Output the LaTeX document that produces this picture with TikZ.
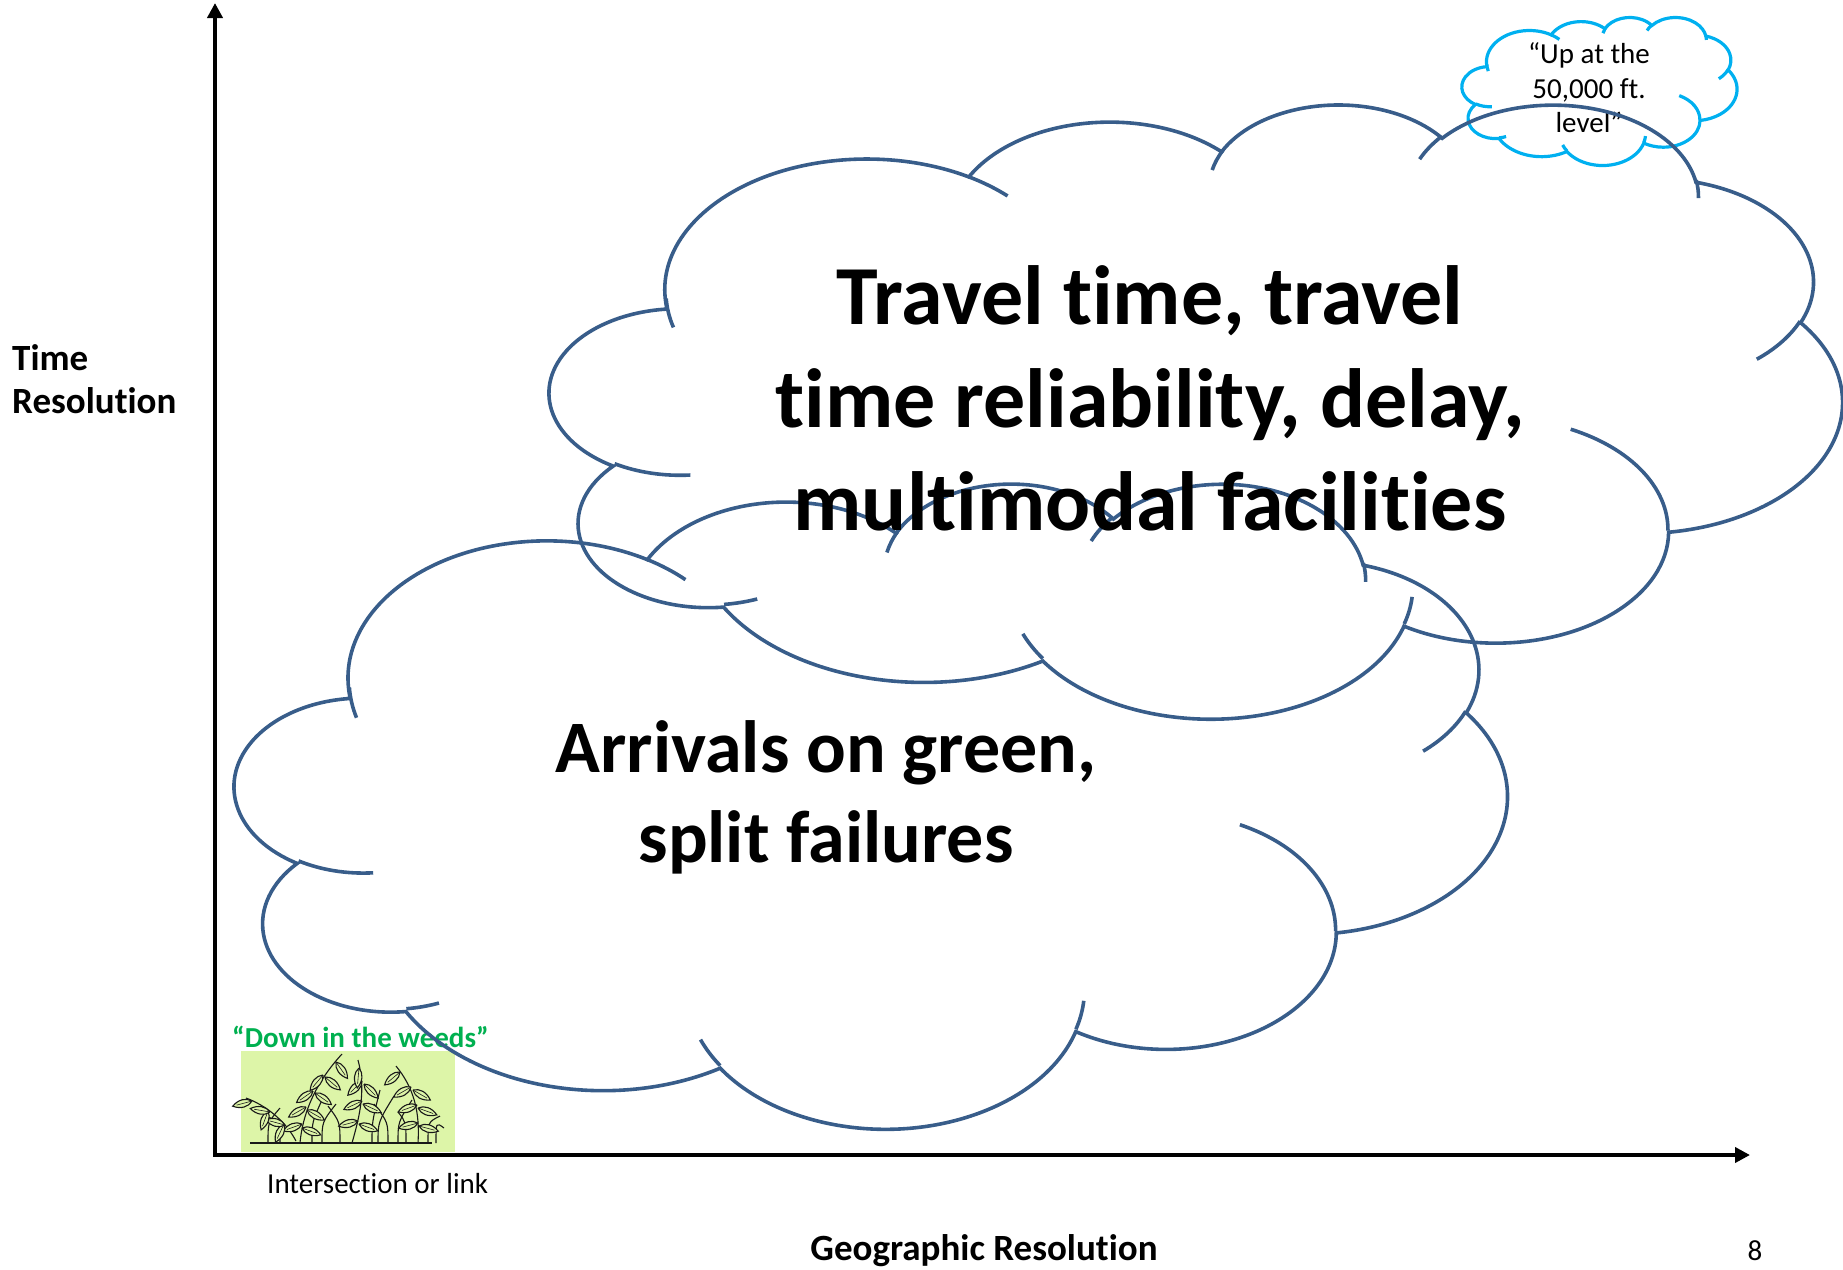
\documentclass[tikz,border=0pt]{standalone}
\usepackage{fontspec}
\setmainfont{Carlito}[Ligatures=NoCommon]
\usetikzlibrary{arrows.meta}

\definecolor{cloudblue}{RGB}{56,93,138}
\definecolor{skycyan}{RGB}{0,176,240}
\definecolor{weedgreen}{RGB}{0,176,80}
\definecolor{weedbg}{RGB}{221,245,168}

\tikzset{
  % elliptical arc whose angles are visual (ray) angles, as in DrawingML arcTo
  carc/.style n args={4}{insert path={arc[
      start angle={atan2((#1)*sin(#3),(#2)*cos(#3))},
      delta angle={mod(atan2((#1)*sin((#3)+(#4)),(#2)*cos((#3)+(#4)))-atan2((#1)*sin(#3),(#2)*cos(#3))+720,360)},
      x radius=#1, y radius=#2]}},
  cloudline/.style={draw=cloudblue, line width=3.6pt},
  skyline/.style={draw=skycyan, line width=3.2pt},
  axisline/.style={line width=4pt, -{Triangle[length=15pt,width=15pt]}},
  axislabel/.style={font=\fontsize{37}{44}\selectfont\bfseries, inner sep=0pt},
  smalllabel/.style={font=\fontsize{29}{35}\selectfont, inner sep=0pt},
  bigtext/.style={font=\fontsize{84}{103}\selectfont\bfseries, inner sep=0pt},
  midtext/.style={font=\fontsize{74}{89}\selectfont\bfseries, inner sep=0pt},
  weedtext/.style={font=\fontsize{29}{35}\selectfont\bfseries, text=weedgreen, inner sep=0pt},
  weedline/.style={draw=black!90, line width=1.1pt},
  weedleaf/.pic={\draw[weedline, fill=weedbg] (0,0) .. controls (5,-5) and (13,-5) .. (20,0) .. controls (13,5) and (5,5) .. (0,0);
                 \draw[black!90, line width=0.6pt] (1,0) -- (16,0);},
}

% cloud outline in a 4320 x 4320 frame, placed in the box (x0,y0,w,h)
\newcommand\cloudshape[5]{%
  \begin{scope}[shift={(#1,#2)}, xscale=#3/4320, yscale=#4/4320]
    \draw[#5] (390,1437)
      [carc={675.3}{919}{-190.48748}{123.78053}]
      [carc={533.3}{726.7}{-144.10238}{89.94523}]
      [carc={436.5}{594.5}{-145.80792}{99.72302}]
      [carc={485.7}{659.5}{-130.98607}{117.24173}]
      [carc={533.3}{727.3}{-78.70888}{109.02692}]
      [carc={677.5}{922}{-46.26725}{130.269}]
      [carc={578.5}{786.7}{0.62502}{114.03333}]
      [carc={675.2}{921.5}{22.4516}{115.17255}]
      [carc={772}{1054.3}{66.24263}{75.71102}]
      [carc={436}{591.8}{-274.94208}{146.73557}]
      [carc={434.5}{594.5}{-246.8285}{152.51885}] -- cycle;
    \draw[#5]
      (469.3,2617.7) [carc={434.5}{594.5}{86.742}{26.4295}]
      (692.8,3489.9) [carc={436}{591.8}{73.61047}{11.44747}]
      (1647.8,3909) [carc={675.2}{921.5}{137.62415}{14.0811}]
      (2882.7,3475.1) [carc={675.2}{921.5}{6.45327}{15.99835}]
      (3412.9,2295.4) [carc={578.5}{786.7}{-70.29235}{70.91737}]
      (4179.8,1535.4) [carc={533.3}{727.3}{30.31803}{27.7515}]
      (3832.4,542.6) [carc={485.7}{659.5}{-13.74433}{14.8589}]
      (2907.8,395.2) [carc={485.7}{659.5}{-149.18145}{18.19537}]
      (2214.1,472) [carc={436.5}{594.5}{-163.49427}{17.68635}]
      (1400,519.2) [carc={675.3}{919}{-66.70695}{12.31935}]
      (412.7,1578.9) [carc={675.3}{919}{159.12255}{17.08703}];
  \end{scope}}

\begin{document}
\begin{tikzpicture}[x=1pt, y=1pt, yscale=-1]
\useasboundingbox (0,0) rectangle (1843,1269);

% axes
\coordinate (origin) at (215,1155);
\coordinate (ytop) at (215,3);
\coordinate (xend) at (1750,1155);
\draw[axisline] (origin) -- (ytop);
\draw[axisline] ([xshift=-2pt]origin) -- (xend);

% axis labels
\node[axislabel, anchor=base west] (timeA) at (12,370) {Time};
\node[axislabel, anchor=base west] (timeB) at (12,413) {Resolution};
\node[smalllabel, anchor=base west] (intlink) at (267,1193) {Intersection or link};
\node[axislabel, anchor=base] (geo) at (984,1260) {Geographic Resolution};
\node[smalllabel, anchor=base] (pagenum) at (1755,1260) {8};

% weeds picture
\node[fill=weedbg, minimum width=214pt, minimum height=101pt, inner sep=0pt, anchor=north west] (weedbox) at (241,1051) {};
\draw[weedline] (250,1143) -- (432,1143);
% grass blades
\foreach \gx/\hx/\hy in {268/280/1108, 280/266/1116, 312/322/1100, 322/336/1104, 340/328/1106,
  372/380/1090, 378/394/1096, 388/374/1104, 398/412/1100, 406/398/1112, 428/440/1116, 436/444/1128}
  \draw[weedline] (\gx,1143) .. controls (\gx,1122) .. (\hx,\hy);
% stems
\draw[weedline] (300,1143) .. controls (303,1110) and (318,1080) .. (342,1054);
\draw[weedline] (296,1141) .. controls (285,1120) and (265,1105) .. (246,1098);
\draw[weedline] (352,1143) .. controls (360,1115) and (366,1090) .. (358,1060);
\draw[weedline] (418,1143) .. controls (420,1112) and (414,1088) .. (396,1066);
% leaves
\foreach \lx/\ly/\la in {302/1128/-20, 302/1124/-160, 307/1110/-30, 306/1107/-150, 315/1093/-35,
  313/1091/-145, 325/1077/-40, 323/1075/-130, 336/1062/-55,
  284/1124/-115, 285/1125/165, 268/1111/-110, 270/1112/170, 252/1101/-165,
  359/1124/-20, 358/1121/-165, 363/1104/-25, 362/1101/-155, 364/1084/-45, 362/1081/-135, 359/1068/-95,
  419/1126/-15, 418/1123/-165, 418/1108/-20, 417/1105/-160, 413/1090/-30, 411/1087/-150, 400/1072/-140}
  \pic[rotate=\la] at (\lx,\ly) {weedleaf};
\node[weedtext, anchor=base west] (weedlabel) at (232,1047) {“Down in the weeds”};

% small sky cloud
\cloudshape{1462}{17}{275}{148}{skyline}
\node[smalllabel, anchor=base] (skyA) at (1589,63) {“Up at the};
\node[smalllabel, anchor=base] (skyB) at (1589,98) {50,000 ft.};
\node[smalllabel, anchor=base] (skyC) at (1589,132) {level”};

% lower cloud
\cloudshape{235}{482}{1272}{645}{cloudline}
\node[midtext, anchor=base] (arrA) at (826,772) {Arrivals on green,};
\node[midtext, anchor=base] (arrB) at (826,862) {split failures};

% upper cloud
\cloudshape{550}{103}{1292}{614}{cloudline}
\node[bigtext, anchor=base] (travA) at (1150,324) {Travel time, travel};
\node[bigtext, anchor=base] (travB) at (1150,427) {time reliability, delay,};
\node[bigtext, anchor=base] (travC) at (1150,530) {multimodal facilities};
\end{tikzpicture}
\end{document}
